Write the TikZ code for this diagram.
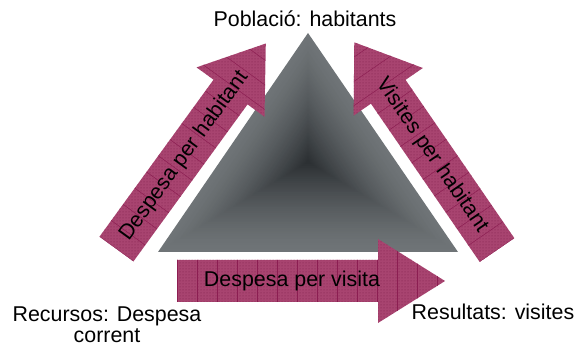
\documentclass[tikz,border=0pt]{standalone}
\usepackage{fontspec}
\setmainfont{Liberation Sans}
\usetikzlibrary{calc}
\usetikzlibrary{patterns}
\definecolor{arrowred}{RGB}{168,68,112}
\definecolor{arrowdot}{RGB}{125,30,75}
\definecolor{arrowline}{RGB}{140,30,82}
\definecolor{triedge}{RGB}{111,116,119}
\definecolor{tricore}{RGB}{44,48,51}
\tikzset{
  lbl/.style={font=\fontsize{21.4}{21}\selectfont,inner sep=0pt,text=black},
  gridline/.style={arrowline,line width=0.5pt}
}
\newcommand{\fatarrow}[7]{%
\begin{scope}[shift={#2},rotate=#3]
\fill[arrowred] (0,-21) -- (#4-#5,-21) -- (#4-#5,-42) -- (#4,0) -- (#4-#5,42) -- (#4-#5,21) -- (0,21) -- cycle;
\begin{scope}
\clip (0,-21) -- (#4-#5,-21) -- (#4-#5,-42) -- (#4,0) -- (#4-#5,42) -- (#4-#5,21) -- (0,21) -- cycle;
\fill[pattern=dots,pattern color=arrowdot] (0,-42) rectangle (#4,42);
\draw[gridline] (0,-40) grid[step=20] (#4,40);
\end{scope}
\node[lbl,rotate=#6] (#1) at (115,0) {#7};
\end{scope}}

\begin{document}
\begin{tikzpicture}[x=1pt,y=-1pt]
\useasboundingbox (0,0) rectangle (582,347);
\coordinate (top) at (308,33);
\coordinate (bl) at (158,252);
\coordinate (br) at (458,252);
\coordinate (core) at (308,162);
\foreach \i in {0,...,47}{
  \pgfmathsetmacro\s{1-\i/48}
  \pgfmathtruncatemacro\m{100*(\i/47)^1.4}
  \fill[tricore!\m!triedge] ($(core)!\s!(top)$) -- ($(core)!\s!(bl)$) -- ($(core)!\s!(br)$) -- cycle;
}
\fatarrow{perhab}{(116.5,249)}{54}{254}{60}{54}{Despesa per habitant}
\fatarrow{visihab}{(497,250)}{124.5}{252}{60}{-55.5}{Visites per habitant}
\fatarrow{pervis}{(177,281)}{0}{268}{67}{0}{Despesa per visita}
\node[lbl,anchor=base] (pop) at (305,27) {Població: habitants};
\node[lbl,anchor=north,align=center] (rec) at (107,307) {Recursos: Despesa\\corrent};
\node[lbl,anchor=base] (res) at (493,320) {Resultats: visites};
\end{tikzpicture}
\end{document}
